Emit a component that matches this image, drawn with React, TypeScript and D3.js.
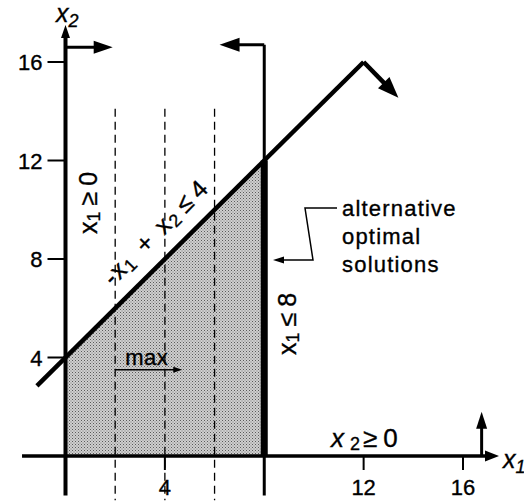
import React from "react";
import * as d3 from "d3";

// ---- data (in x1, x2 units) ----
const yTicks = [4, 8, 12, 16];
const xTicks = [4, 12, 16];
const feasibleRegion: [number, number][] = [[0, 0], [0, 4], [8, 12], [8, 0]];
const constraintLine: [number, number][] = [[-1.15, 2.85], [12, 16]];
const constraintArrow: [number, number][] = [[12, 16], [13.4, 14.55]];
const isoProfitX = [2, 4, 6];
const isoProfitRange: [number, number] = [-1.8, 14.1];
const optimalSegment: [number, number][] = [[8, 0], [8, 12]];
const x1Ge0Arrow: [number, number][] = [[0, 16.6], [1.9, 16.6]];
const x1Le8Arrow: [number, number][] = [[8, 16.7], [6.2, 16.7]];
const x2Ge0Arrow: [number, number][] = [[16.75, 0], [16.75, 1.8]];
const maxArrow: [number, number][] = [[2, 3.5], [4.7, 3.5]];
const xAxisRange: [number, number] = [-1.75, 17.45];
const yAxisRange: [number, number] = [-1.6, 17.5];
const noteLines = ["alternative", "optimal", "solutions"];

const W = 524;
const H = 501;
const FONT = "'Liberation Sans', Arial, Helvetica, sans-serif";

const x = d3.scaleLinear().domain([0, 16]).range([65.5, 463]);
const y = d3.scaleLinear().domain([0, 16]).range([456, 62]);

const line = d3
  .line<[number, number]>()
  .x((d) => x(d[0]))
  .y((d) => y(d[1]));

function head(p0: [number, number], p1: [number, number], L: number, w: number) {
  const dx = p1[0] - p0[0];
  const dy = p1[1] - p0[1];
  const n = Math.hypot(dx, dy);
  const ux = dx / n, uy = dy / n;
  const bx = p1[0] - ux * L, by = p1[1] - uy * L;
  const px = -uy * (w / 2), py = ux * (w / 2);
  return `${p1[0]},${p1[1]} ${bx + px},${by + py} ${bx - px},${by - py}`;
}

function Arrow({ pts, sw, L, w }: { pts: [number, number][]; sw: number; L: number; w: number }) {
  const p0: [number, number] = [x(pts[0][0]), y(pts[0][1])];
  const p1: [number, number] = [x(pts[1][0]), y(pts[1][1])];
  const dx = p1[0] - p0[0], dy = p1[1] - p0[1];
  const n = Math.hypot(dx, dy);
  const e: [number, number] = [p1[0] - (dx / n) * (L * 0.7), p1[1] - (dy / n) * (L * 0.7)];
  return (
    <g>
      <line x1={p0[0]} y1={p0[1]} x2={e[0]} y2={e[1]} stroke="#000" strokeWidth={sw} />
      <polygon points={head(p0, p1, L, w)} fill="#000" />
    </g>
  );
}

const txt = { stroke: "#000", strokeWidth: 0.35 };

export default function App() {
  const x0 = x(0);
  const y0 = y(0);
  return (
    <svg
      width={W}
      height={H}
      style={{ position: "absolute", left: 0, top: 0, background: "#fff" }}
      fontFamily={FONT}
    >
      <defs>
        <pattern id="dots" width="3" height="3" patternUnits="userSpaceOnUse">
          <rect width="3" height="3" fill="#cfcfcf" />
          <rect width="1" height="1" fill="#5a5a5a" />
          <rect x="1.5" y="1.5" width="1" height="1" fill="#7a7a7a" />
        </pattern>
      </defs>

      {/* feasible region */}
      <path d={line(feasibleRegion) + "Z"} fill="url(#dots)" stroke="none" />

      {/* iso-profit dashed lines */}
      {isoProfitX.map((v) => (
        <line
          key={v}
          x1={x(v)}
          x2={x(v)}
          y1={y(isoProfitRange[1])}
          y2={y(isoProfitRange[0])}
          stroke="#000"
          strokeWidth={1.3}
          strokeDasharray="8,5"
        />
      ))}

      {/* axes */}
      <line x1={x(xAxisRange[0])} x2={x(xAxisRange[1]) - 8} y1={y0} y2={y0} stroke="#000" strokeWidth={3.5} />
      <polygon points={head([x(0), y0], [x(xAxisRange[1]), y0], 14, 11)} fill="#000" />
      <line x1={x0} x2={x0} y1={y(yAxisRange[0])} y2={y(yAxisRange[1]) + 8} stroke="#000" strokeWidth={4} />
      <polygon points={head([x0, y0], [x0, y(yAxisRange[1])], 13, 9)} fill="#000" />

      {/* y ticks */}
      {yTicks.map((t) => (
        <g key={t}>
          <line x1={x0 - 18} x2={x0} y1={y(t)} y2={y(t)} stroke="#000" strokeWidth={2} />
          <text x={x0 - 23} y={y(t) + 8} textAnchor="end" fontSize={22} {...txt}>
            {t}
          </text>
        </g>
      ))}
      {/* x ticks */}
      {xTicks.map((t) => (
        <g key={t}>
          <line x1={x(t)} x2={x(t)} y1={y0} y2={y0 + 14} stroke="#000" strokeWidth={2} />
          <text x={x(t)} y={y0 + 39} textAnchor="middle" fontSize={22} {...txt}>
            {t}
          </text>
        </g>
      ))}

      {/* x1 <= 8 line */}
      <line x1={x(8)} x2={x(8)} y1={y(yAxisRange[0])} y2={y(16.7)} stroke="#000" strokeWidth={3} />
      <line
        x1={x(optimalSegment[0][0])}
        x2={x(optimalSegment[1][0])}
        y1={y(optimalSegment[0][1])}
        y2={y(optimalSegment[1][1])}
        stroke="#000"
        strokeWidth={7}
      />
      <Arrow pts={x1Le8Arrow} sw={3} L={20} w={14} />

      {/* x1 >= 0 arrow */}
      <Arrow pts={x1Ge0Arrow} sw={3} L={19} w={13} />

      {/* -x1 + x2 <= 4 */}
      <path d={line(constraintLine) ?? ""} fill="none" stroke="#000" strokeWidth={4.5} />
      <Arrow pts={constraintArrow} sw={4.5} L={21} w={16} />

      {/* x2 >= 0 arrow */}
      <Arrow pts={x2Ge0Arrow} sw={3} L={17} w={11} />

      {/* max arrow */}
      <Arrow pts={maxArrow} sw={1.5} L={9} w={6} />
      <text x={x(2.4)} y={y(3.5) - 5} fontSize={22} letterSpacing={0.5} {...txt}>max</text>

      {/* axis labels */}
      <text x={56} y={22} fontSize={25} fontStyle="italic" {...txt}>
        x<tspan fontSize={18} dy={5}>2</tspan>
      </text>
      <text x={503} y={468} fontSize={25} fontStyle="italic" {...txt}>
        x<tspan fontSize={18} dy={5}>1</tspan>
      </text>

      {/* constraint labels */}
      <text transform={`translate(97,234) rotate(-90)`} fontSize={25} {...txt}>
        x<tspan fontSize={18} dy={3}>1</tspan>
        <tspan dy={-3} dx={6}>≥</tspan>
        <tspan dx={6}>0</tspan>
      </text>
      <text transform={`translate(296,355) rotate(-90)`} fontSize={25} {...txt}>
        x<tspan fontSize={18} dy={3}>1</tspan>
        <tspan dy={-3} dx={6}>≤</tspan>
        <tspan dx={6}>8</tspan>
      </text>
      <text transform={`translate(113,287) rotate(-45)`} fontSize={25} letterSpacing={1} {...txt}>
        -x<tspan fontSize={18} dy={3}>1</tspan>
        <tspan dy={-3} dx={12}>+</tspan>
        <tspan dx={11}>x</tspan>
        <tspan fontSize={18} dy={3}>2</tspan>
        <tspan dy={-3} dx={6}>≤</tspan>
        <tspan dx={5}>4</tspan>
      </text>
      <text x={331} y={447} fontSize={26} {...txt}>
        <tspan fontStyle="italic">x</tspan>
        <tspan fontSize={18} dy={3} dx={6}>2</tspan>
        <tspan dy={-3} dx={3}>≥</tspan>
        <tspan dx={6}>0</tspan>
      </text>

      {/* note */}
      {noteLines.map((s, i) => (
        <text key={s} x={342} y={216 + i * 28} fontSize={22} letterSpacing={1.2} {...txt}>
          {s}
        </text>
      ))}
      <polyline points="337,208 305,208 313,260 282,260" fill="none" stroke="#000" strokeWidth={1.5} />
      <polygon points={head([300, 260], [273, 260], 11, 7)} fill="#000" />
    </svg>
  );
}
